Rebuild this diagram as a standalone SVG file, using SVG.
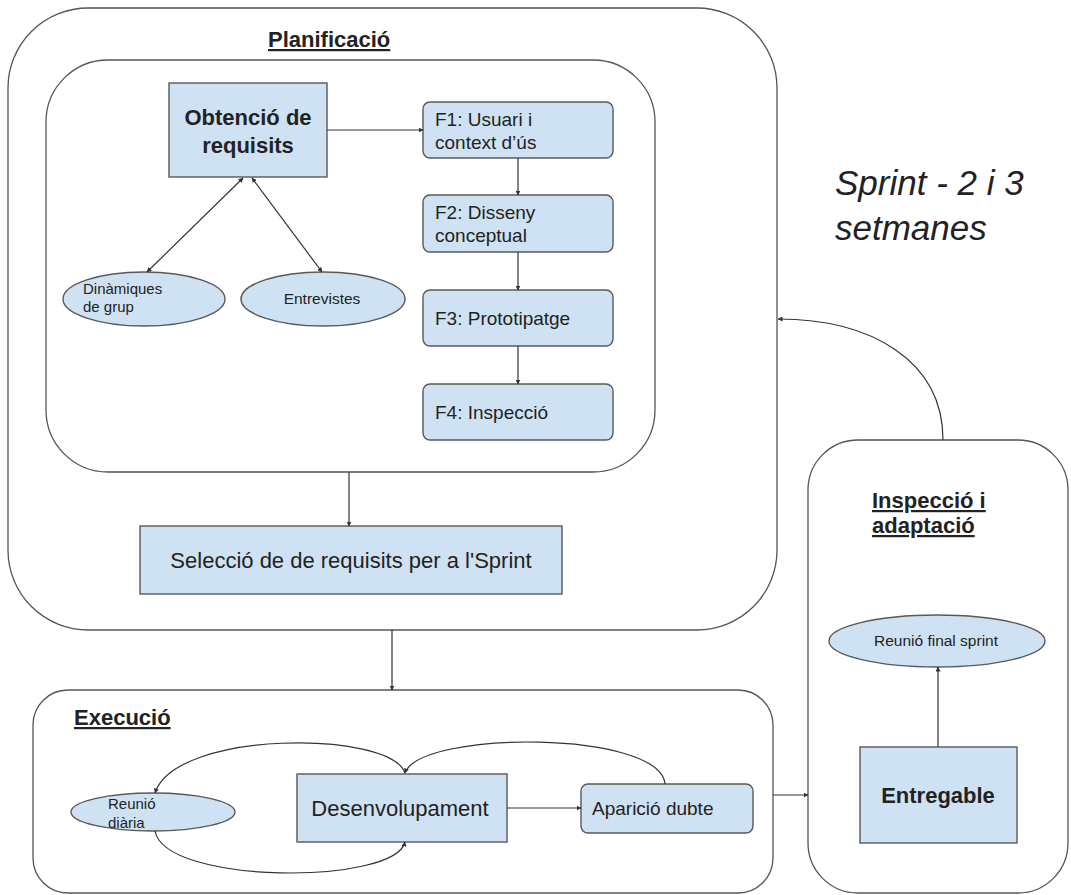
<svg xmlns="http://www.w3.org/2000/svg" width="1071" height="895" viewBox="0 0 1071 895">
<style>
text{font-family:"Liberation Sans",Arial,sans-serif;fill:#222}
.cont{fill:#fff;stroke:#555;stroke-width:1.3}
.box{fill:#cfe2f3;stroke:#595959;stroke-width:1.4}
.title{font-weight:bold;font-size:22px;text-decoration:underline}
.conn{fill:none;stroke:#333;stroke-width:1.2}
</style>
<defs>
<marker id="ah" viewBox="0 0 10 10" refX="9" refY="5" markerWidth="5" markerHeight="5" orient="auto-start-reverse" markerUnits="userSpaceOnUse"><path d="M0,0 L10,5 L0,10 z" fill="#333"/></marker>
</defs>
<rect width="1071" height="895" fill="#fff"/>
<g id="planificacio">
<rect class="cont" x="8" y="8" width="769" height="622" rx="80"/>
<text class="title" x="268" y="47">Planificació</text>
</g>
<g id="planificacio-inner">
<rect class="cont" x="46" y="60" width="609" height="412" rx="62"/>
</g>
<g id="obtencio">
<rect class="box" x="169" y="83" width="158" height="94"/>
<text x="248" y="125" font-size="22" font-weight="bold" text-anchor="middle">Obtenció de</text>
<text x="248" y="153" font-size="22" font-weight="bold" text-anchor="middle">requisits</text>
</g>
<g id="f1">
<rect class="box" x="423" y="102" width="190" height="56" rx="7"/>
<text x="435" y="126" font-size="19">F1: Usuari i</text>
<text x="435" y="149" font-size="19">context d’ús</text>
</g>
<g id="f2">
<rect class="box" x="423" y="195" width="190" height="57" rx="7"/>
<text x="435" y="219" font-size="19">F2: Disseny</text>
<text x="435" y="242" font-size="19">conceptual</text>
</g>
<g id="f3">
<rect class="box" x="423" y="290" width="190" height="56" rx="7"/>
<text x="435" y="325" font-size="19">F3: Prototipatge</text>
</g>
<g id="f4">
<rect class="box" x="423" y="384" width="190" height="56" rx="7"/>
<text x="435" y="419" font-size="19">F4: Inspecció</text>
</g>
<g id="dinamiques">
<ellipse class="box" cx="144" cy="299" rx="81" ry="27"/>
<text x="83" y="294" font-size="15">Dinàmiques</text>
<text x="83" y="312" font-size="15">de grup</text>
</g>
<g id="entrevistes">
<ellipse class="box" cx="323" cy="299" rx="82" ry="27"/>
<text x="322" y="304" font-size="15.5" text-anchor="middle">Entrevistes</text>
</g>
<g id="seleccio">
<rect class="box" x="140" y="526" width="422" height="68"/>
<text x="351" y="568" font-size="22" text-anchor="middle">Selecció de de requisits per a l'Sprint</text>
</g>
<g id="sprint-label">
<text x="835" y="195" font-size="35" font-style="italic">Sprint - 2 i 3</text>
<text x="835" y="240" font-size="35" font-style="italic">setmanes</text>
</g>
<g id="execucio">
<rect class="cont" x="33" y="690" width="740" height="203" rx="35"/>
<text class="title" x="74" y="725">Execució</text>
</g>
<g id="desenvolupament">
<rect class="box" x="297" y="774" width="210" height="68"/>
<text x="400" y="816" font-size="22" text-anchor="middle">Desenvolupament</text>
</g>
<g id="aparicio">
<rect class="box" x="581" y="784" width="172" height="49" rx="7"/>
<text x="592" y="815" font-size="19">Aparició dubte</text>
</g>
<g id="reunio-diaria">
<ellipse class="box" cx="153" cy="812" rx="82" ry="19"/>
<text x="108" y="809" font-size="15">Reunió</text>
<text x="108" y="828" font-size="15">diària</text>
</g>
<g id="inspeccio">
<rect class="cont" x="808" y="440" width="260" height="453" rx="50"/>
<text class="title" x="872" y="508">Inspecció i</text>
<text class="title" x="872" y="533">adaptació</text>
</g>
<g id="reunio-final">
<ellipse class="box" cx="937" cy="641" rx="108" ry="26"/>
<text x="936" y="646" font-size="15.5" text-anchor="middle">Reunió final sprint</text>
</g>
<g id="entregable">
<rect class="box" x="860" y="747" width="157" height="96"/>
<text x="938" y="803" font-size="22" font-weight="bold" text-anchor="middle">Entregable</text>
</g>
<g id="connectors">
<line class="conn" x1="327" y1="130" x2="423" y2="130" marker-end="url(#ah)"/>
<line class="conn" x1="518" y1="158" x2="518" y2="195" marker-end="url(#ah)"/>
<line class="conn" x1="518" y1="252" x2="518" y2="290" marker-end="url(#ah)"/>
<line class="conn" x1="518" y1="346" x2="518" y2="384" marker-end="url(#ah)"/>
<line class="conn" x1="243" y1="178" x2="147" y2="272" marker-start="url(#ah)" marker-end="url(#ah)"/>
<line class="conn" x1="252" y1="178" x2="322" y2="272" marker-start="url(#ah)" marker-end="url(#ah)"/>
<line class="conn" x1="349" y1="472" x2="349" y2="526" marker-end="url(#ah)"/>
<line class="conn" x1="392" y1="630" x2="392" y2="690" marker-end="url(#ah)"/>
<path class="conn" d="M405,773 C390,730 175,730 155,793" marker-end="url(#ah)"/>
<path class="conn" d="M665,784 C660,730 420,730 405,773" marker-end="url(#ah)"/>
<path class="conn" d="M155,831 C165,885 395,885 405,842" marker-end="url(#ah)"/>
<line class="conn" x1="507" y1="808" x2="581" y2="808" marker-end="url(#ah)"/>
<line class="conn" x1="773" y1="795" x2="808" y2="795" marker-end="url(#ah)"/>
<line class="conn" x1="938" y1="747" x2="938" y2="667" marker-end="url(#ah)"/>
<path class="conn" d="M943,440 C943,360 870,319 778,319" marker-end="url(#ah)"/>
</g>
</svg>
